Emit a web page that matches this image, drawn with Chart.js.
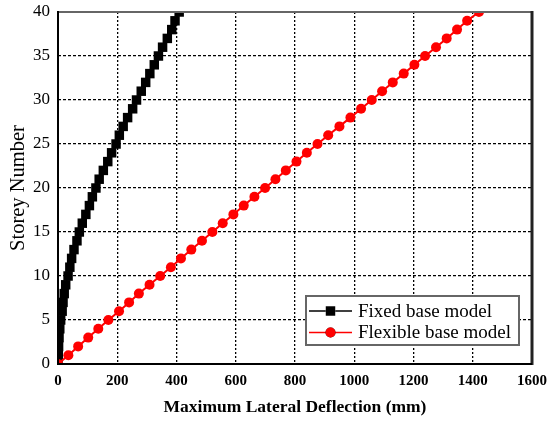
<!doctype html>
<html lang="en">
<head>
    <meta charset="utf-8">
    <title>Storey deflection</title>
    <script src="https://cdn.jsdelivr.net/npm/chart.js@4.4.1/dist/chart.umd.min.js"></script>
</head>
<style>
    body { margin: 0; background: #fff; }
    #wrap { width: 549px; height: 421px; }
</style>
<body>
<div id="wrap"><canvas id="defl_plot" width="549" height="421"></canvas></div>

<script>
    // storey numbers and max lateral deflection (mm)
    var storeys = [0, 1, 2, 3, 4, 5, 6, 7, 8, 9, 10, 11, 12, 13, 14, 15, 16, 17, 18, 19, 20,
                   21, 22, 23, 24, 25, 26, 27, 28, 29, 30, 31, 32, 33, 34, 35, 36, 37, 38, 39, 40];
    var fixed_base = [0, 1, 2, 3.5, 6, 9, 14, 17, 21, 26, 34, 40, 46, 54, 64, 72, 82, 94, 106, 116, 128,
                      139, 153, 168, 181, 196, 207, 220, 235, 252, 265, 281, 296, 310, 325, 339, 353, 369, 384, 395, 409];
    var flexible_base = [0, 35, 68, 102, 136, 170, 206, 240, 273, 309, 345, 381, 415, 450, 486, 521, 556, 592, 627, 663, 699,
                         734, 769, 805, 840, 876, 912, 950, 987, 1023, 1059, 1094, 1130, 1167, 1203, 1239, 1276, 1312, 1347, 1381, 1421];

    function pts(xs) {
        return xs.map((v, i) => ({x: v, y: storeys[i]}));
    }

    // frame round the plot area + boxed legend inside it
    var frame_legend = {
        id: "frame_legend",
        afterDraw(chart) {
            var ctx = chart.ctx, a = chart.chartArea;
            ctx.save();
            ctx.setLineDash([]);
            ctx.lineWidth = 2; ctx.strokeStyle = "#666";
            ctx.beginPath(); ctx.moveTo(a.left, a.top); ctx.lineTo(a.right, a.top); ctx.stroke();
            ctx.lineWidth = 3; ctx.strokeStyle = "#222";
            ctx.beginPath(); ctx.moveTo(a.right, a.top - 1); ctx.lineTo(a.right, a.bottom + 1); ctx.stroke();
            ctx.lineWidth = 2; ctx.strokeStyle = "#000";
            ctx.beginPath(); ctx.moveTo(a.left, a.top - 1); ctx.lineTo(a.left, a.bottom); ctx.lineTo(a.right, a.bottom); ctx.stroke();

            var bx = a.right - 226, by = a.bottom - 68, bw = 213, bh = 49;
            ctx.fillStyle = "#fff";
            ctx.fillRect(bx, by, bw, bh);
            ctx.lineWidth = 2; ctx.strokeStyle = "#666";
            ctx.strokeRect(bx, by, bw, bh);

            var items = [chart.data.datasets[1], chart.data.datasets[0]];
            ctx.font = "19px 'Liberation Serif'";
            ctx.textBaseline = "middle";
            items.forEach((ds, i) => {
                var y = by + 15 + i * 21.5;
                ctx.strokeStyle = ds.borderColor; ctx.lineWidth = 1.5;
                ctx.beginPath(); ctx.moveTo(bx + 3, y); ctx.lineTo(bx + 46, y); ctx.stroke();
                Chart.helpers.drawPoint(ctx, {pointStyle: ds.pointStyle, radius: ds.pointRadius, borderWidth: 0},
                                        bx + 24.5, y);
                ctx.fillStyle = ds.pointBackgroundColor;
                ctx.fill();
                ctx.fillStyle = "#000";
                ctx.fillText(ds.label, bx + 52, y + 1);
            });
            ctx.restore();
        }
    };

    new Chart("defl_plot", {
        type: "line",
        data: {
            datasets: [
                {
                    label: "Flexible base model",
                    data: pts(flexible_base),
                    borderColor: "#ff0000",
                    borderWidth: 2,
                    pointStyle: "circle",
                    pointRadius: 5,
                    pointBackgroundColor: "#ff0000",
                    pointBorderWidth: 0,
                    tension: 0,
                    fill: false
                },
                {
                    label: "Fixed base model",
                    data: pts(fixed_base),
                    borderColor: "#000",
                    borderWidth: 1.5,
                    pointStyle: "rect",
                    pointRadius: 6.7,
                    pointBackgroundColor: "#000",
                    pointBorderWidth: 0,
                    tension: 0,
                    fill: false
                }
            ]
        },
        options: {
            responsive: false,
            animation: false,
            layout: {padding: {top: 12, right: 17, left: 0, bottom: 0}},
            plugins: {legend: {display: false}, tooltip: {enabled: false}},
            scales: {
                x: {
                    type: "linear",
                    min: 0, max: 1600,
                    afterFit: s => { s.height = 57; s.paddingLeft = 0; s.paddingRight = 0; },
                    ticks: {stepSize: 200, color: "#000", padding: 8, callback: v => String(v),
                            font: {family: "'Liberation Serif'", size: 15, weight: "bold"}},
                    grid: {color: "#000", lineWidth: 1.3, drawTicks: false},
                    border: {display: false, dash: [2, 2]},
                    title: {display: true, text: "Maximum Lateral Deflection (mm)", color: "#000",
                            padding: {top: 0, bottom: 3},
                            font: {family: "'Liberation Serif'", size: 17.5, weight: "bold"}}
                },
                y: {
                    type: "linear",
                    min: 0, max: 40,
                    afterFit: s => { s.width = 58; s.paddingTop = 0; s.paddingBottom = 0; },
                    ticks: {stepSize: 5, color: "#000", padding: 8, callback: v => String(v),
                            font: {family: "'Liberation Serif'", size: 17}},
                    grid: {color: "#000", lineWidth: 1.3, drawTicks: false},
                    border: {display: false, dash: [3, 2]},
                    title: {display: true, text: "Storey Number", color: "#000",
                            padding: {top: 6, bottom: 0},
                            font: {family: "'Liberation Serif'", size: 20.5}}
                }
            }
        },
        plugins: [frame_legend]
    });
</script>
</body>
</html>
